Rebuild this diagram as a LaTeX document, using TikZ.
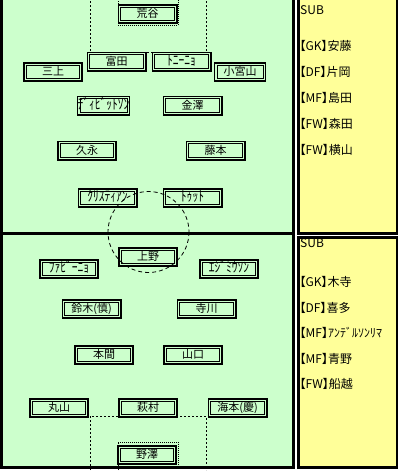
\documentclass[tikz,border=0pt]{standalone}
\usepackage{fontspec}
\setmainfont{Noto Sans CJK JP}
\newfontfamily\fuentesub[RawFeature=+palt]{Noto Sans CJK JP}
\definecolor{campo}{HTML}{CCFFCC}
\definecolor{banca}{HTML}{FFFF99}
% Katakana de media anchura, un poco más alta
\newcommand{\hank}[1]{\scalebox{1.05}[1.3]{#1}}
\tikzset{
    jugador/.style={draw, line width=1.6pt, fill=campo, minimum width=58.4pt, minimum height=18.4pt, inner sep=0pt,
        font=\fontsize{11}{11}\selectfont, text height=8.6pt, text depth=1.6pt,
        path picture={\draw[line width=0.8pt] ([shift={(2.4pt,-2.4pt)}]path picture bounding box.north west) rectangle ([shift={(-2.4pt,2.4pt)}]path picture bounding box.south east);}},
    suplente/.style={anchor=west, inner sep=0pt, font=\fuentesub\fontsize{12}{12}\selectfont},
    penal/.style={line width=0.8pt, dash pattern=on 2pt off 2pt},
    area/.style={line width=0.8pt, dash pattern=on 1pt off 1pt},
}
\begin{document}
\begin{tikzpicture}[x=1pt, y=-1pt]
    % Fijar los límites del gráfico
    \useasboundingbox[fill=white] (0,0) rectangle (400,474);

    % Dibujar el campo
    \fill[campo] (1.5,-3) rectangle (293.5,467.5);

    % Dibujar las áreas del campo de arriba
    \draw[penal] (90,-3) -- (90,52) -- (206,52) -- (206,-3);
    \draw[area] (118,-3) -- (118,25) -- (178,25) -- (178,-3);

    % Dibujar las áreas del campo de abajo
    \draw[penal] (90,470) -- (90,416) -- (206,416) -- (206,470);
    \draw[area] (118,470) -- (118,442) -- (178,442) -- (178,470);

    % Bordes y línea central
    \draw[line width=2.6pt] (1.5,-3) rectangle (293.5,467.5);
    \draw[line width=2.2pt] (1.5,233.5) -- (293.5,233.5);

    % Los bancos de suplentes
    \draw[line width=2.6pt, fill=banca] (298.5,-3) rectangle (397,233.5);
    \draw[line width=2.6pt, fill=banca] (298.5,237.5) rectangle (397,467.5);

    % Equipo de arriba
    \node[jugador] (Araya) at (147.5,14) {荒谷};
    \node[jugador] (Tomita) at (116.5,61.5) {富田};
    \node[jugador] (Toninho) at (181.5,61.5) {\hank{ﾄﾆｰﾆｮ}};
    \node[jugador] (Mikami) at (53,72) {三上};
    \node[jugador, minimum width=51pt] (Komiyama) at (240,72) {小宮山};
    \node[jugador, minimum width=52pt] (Davidson) at (103.5,105.5) {\hank{ﾃﾞｨﾋﾞｯﾄｿﾝ}};
    \node[jugador] (Kanazawa) at (192.5,105.5) {金澤};
    \node[jugador] (Hisanaga) at (87,150.5) {久永};
    \node[jugador] (Fujimoto) at (215.5,150.5) {藤本};
    \node[jugador] (Cristian) at (107.5,198) {\hank{ｸﾘｽﾃｨｱﾝ}};
    \node[jugador] (Tuto) at (192.5,198) {\hank{ﾄｩｯﾄ}};

    % Equipo de abajo
    \node[jugador] (Ueno) at (148,257) {上野};
    \node[jugador] (Fabinho) at (69,269) {\hank{ﾌｧﾋﾞｰﾆｮ}};
    \node[jugador] (Edmilson) at (229,269) {\hank{ｴｼﾞﾐｳｿﾝ}};
    \node[jugador] (Suzuki) at (91.5,309) {鈴木(慎)};
    \node[jugador] (Terakawa) at (206.5,309) {寺川};
    \node[jugador] (Honma) at (104,355) {本間};
    \node[jugador] (Yamaguchi) at (193,355) {山口};
    \node[jugador] (Maruyama) at (59,408) {丸山};
    \node[jugador] (Hagimura) at (148,408) {萩村};
    \node[jugador] (Umimoto) at (237.5,408) {海本(慶)};
    \node[jugador] (Nozawa) at (147,455) {野澤};

    % Círculo central punteado
    \draw[line width=0.8pt, dash pattern=on 4pt off 3pt] (148.5,232) circle[radius=40.5];

    % Suplentes del equipo de arriba
    \begin{scope}
        \clip (299.8,0) rectangle (395.7,232.2);
        \node[suplente] (SubA) at (300,10) {SUB};
        \node[suplente] (SubA1) at (299.5,46) {【GK】安藤};
        \node[suplente] (SubA2) at (299.5,72) {【DF】片岡};
        \node[suplente] (SubA3) at (299.5,98) {【MF】島田};
        \node[suplente] (SubA4) at (299.5,124) {【FW】森田};
        \node[suplente] (SubA5) at (299.5,150) {【FW】横山};
    \end{scope}

    % Suplentes del equipo de abajo
    \begin{scope}
        \clip (299.8,238.8) rectangle (395.7,466.2);
        \node[suplente] (SubB) at (300,243) {SUB};
        \node[suplente] (SubB1) at (299.5,282) {【GK】木寺};
        \node[suplente] (SubB2) at (299.5,307.5) {【DF】喜多};
        \node[suplente] (SubB3) at (299.5,333) {【MF】ｱﾝﾃﾞﾙｿﾝﾘﾏ};
        \node[suplente] (SubB4) at (299.5,358.5) {【MF】青野};
        \node[suplente] (SubB5) at (299.5,384) {【FW】船越};
    \end{scope}

\end{tikzpicture}
\end{document}
